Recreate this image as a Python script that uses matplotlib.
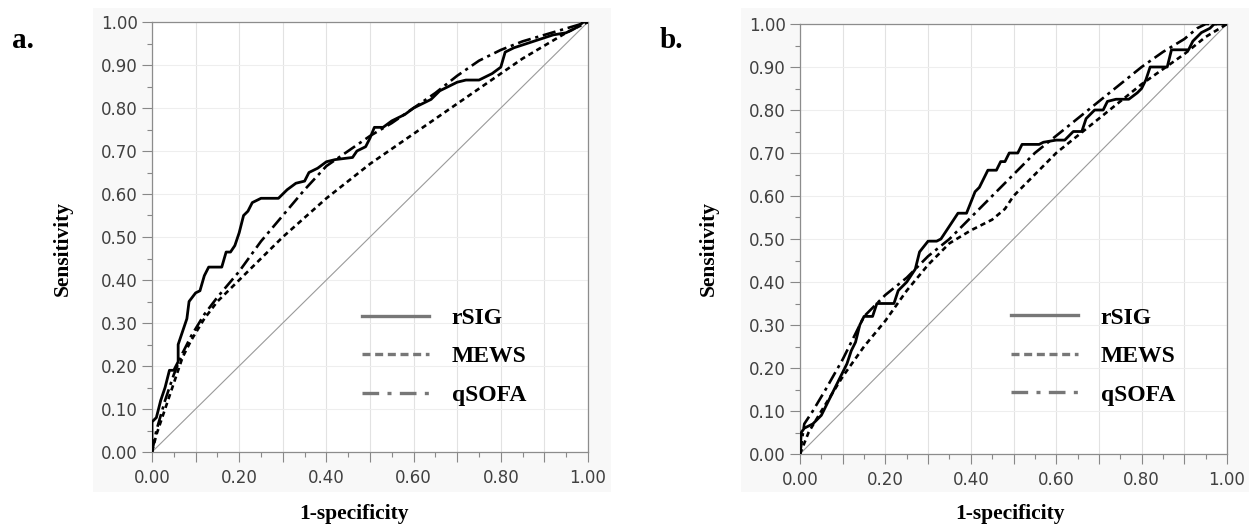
import matplotlib
matplotlib.use("Agg")
import matplotlib.pyplot as plt
from matplotlib.lines import Line2D
from matplotlib.patches import Rectangle
from matplotlib.ticker import MultipleLocator, FuncFormatter

# ---- panel a: ROC points (1-specificity, sensitivity) ----
a_rsig_x = [0, 0, 0.01, 0.02, 0.03, 0.04, 0.05, 0.06, 0.06, 0.07, 0.08, 0.085, 0.10, 0.11,
            0.12, 0.13, 0.16, 0.17, 0.18, 0.19, 0.20, 0.21, 0.22, 0.23, 0.25, 0.29, 0.31,
            0.33, 0.35, 0.36, 0.38, 0.40, 0.42, 0.46, 0.47, 0.49, 0.50, 0.51, 0.53, 0.55,
            0.58, 0.60, 0.62, 0.64, 0.66, 0.68, 0.70, 0.72, 0.75, 0.78, 0.80, 0.81, 0.83,
            0.86, 0.89, 0.92, 0.95, 0.97, 0.99, 1.0]
a_rsig_y = [0, 0.07, 0.08, 0.12, 0.15, 0.19, 0.19, 0.21, 0.25, 0.28, 0.31, 0.35, 0.37, 0.375,
            0.41, 0.43, 0.43, 0.465, 0.465, 0.48, 0.51, 0.55, 0.56, 0.58, 0.59, 0.59, 0.61,
            0.625, 0.63, 0.65, 0.66, 0.675, 0.68, 0.685, 0.70, 0.71, 0.73, 0.755, 0.755, 0.77,
            0.785, 0.80, 0.81, 0.82, 0.84, 0.85, 0.86, 0.865, 0.865, 0.88, 0.895, 0.93, 0.94,
            0.95, 0.96, 0.97, 0.975, 0.985, 1.0, 1.0]
a_mews_x = [0, 0.01, 0.03, 0.05, 0.07, 0.09, 0.12, 0.15, 0.20, 0.25, 0.30, 0.35, 0.40, 0.45,
            0.50, 0.55, 0.60, 0.65, 0.70, 0.75, 0.80, 0.85, 0.90, 0.95, 1.0]
a_mews_y = [0, 0.04, 0.10, 0.16, 0.22, 0.26, 0.31, 0.35, 0.40, 0.45, 0.50, 0.545, 0.59, 0.63,
            0.67, 0.705, 0.74, 0.775, 0.81, 0.845, 0.88, 0.915, 0.945, 0.975, 1.0]
a_qsofa_x = [0, 0.01, 0.03, 0.05, 0.07, 0.09, 0.12, 0.15, 0.20, 0.25, 0.30, 0.35, 0.40, 0.45,
             0.50, 0.55, 0.60, 0.65, 0.70, 0.75, 0.80, 0.85, 0.90, 0.95, 1.0]
a_qsofa_y = [0, 0.05, 0.12, 0.18, 0.23, 0.27, 0.32, 0.36, 0.42, 0.49, 0.55, 0.61, 0.665, 0.70,
             0.735, 0.765, 0.80, 0.835, 0.875, 0.91, 0.935, 0.955, 0.97, 0.985, 1.0]

# ---- panel b ----
b_rsig_x = [0, 0.003, 0.01, 0.02, 0.03, 0.04, 0.05, 0.06, 0.07, 0.08, 0.09, 0.10, 0.11, 0.12,
            0.13, 0.14, 0.15, 0.17, 0.18, 0.20, 0.22, 0.23, 0.25, 0.27, 0.28, 0.30, 0.32, 0.33,
            0.35, 0.37, 0.39, 0.40, 0.41, 0.42, 0.43, 0.44, 0.46, 0.47, 0.48, 0.49, 0.51, 0.52,
            0.56, 0.57, 0.60, 0.62, 0.64, 0.66, 0.67, 0.69, 0.71, 0.72, 0.74, 0.77, 0.79, 0.80,
            0.81, 0.82, 0.84, 0.86, 0.87, 0.89, 0.91, 0.92, 0.94, 0.96, 0.97, 1.0]
b_rsig_y = [0, 0.05, 0.06, 0.065, 0.07, 0.08, 0.09, 0.11, 0.13, 0.15, 0.17, 0.19, 0.21, 0.24,
            0.26, 0.30, 0.32, 0.32, 0.35, 0.35, 0.35, 0.38, 0.40, 0.43, 0.47, 0.495, 0.495, 0.50,
            0.53, 0.56, 0.56, 0.585, 0.61, 0.62, 0.64, 0.66, 0.66, 0.68, 0.68, 0.70, 0.70, 0.72,
            0.72, 0.725, 0.73, 0.73, 0.75, 0.75, 0.78, 0.80, 0.80, 0.82, 0.825, 0.825, 0.84, 0.85,
            0.87, 0.90, 0.90, 0.90, 0.94, 0.94, 0.94, 0.96, 0.98, 0.99, 1.0, 1.0]
b_mews_x = [0, 0.02, 0.05, 0.10, 0.15, 0.20, 0.25, 0.30, 0.35, 0.40, 0.45, 0.48, 0.50, 0.55,
            0.60, 0.65, 0.70, 0.75, 0.80, 0.85, 0.90, 0.95, 1.0]
b_mews_y = [0, 0.05, 0.10, 0.18, 0.25, 0.31, 0.38, 0.44, 0.49, 0.52, 0.545, 0.57, 0.60, 0.65,
            0.70, 0.74, 0.78, 0.82, 0.86, 0.895, 0.93, 0.97, 1.0]
b_qsofa_x = [0, 0.01, 0.03, 0.06, 0.10, 0.15, 0.20, 0.25, 0.30, 0.35, 0.40, 0.45, 0.50, 0.55,
             0.60, 0.65, 0.70, 0.75, 0.80, 0.85, 0.90, 0.93, 0.95, 1.0]
b_qsofa_y = [0, 0.07, 0.10, 0.15, 0.22, 0.32, 0.37, 0.41, 0.46, 0.50, 0.55, 0.60, 0.65, 0.70,
             0.74, 0.78, 0.82, 0.86, 0.90, 0.935, 0.965, 0.99, 1.0, 1.0]

labels = ["rSIG", "MEWS", "qSOFA"]
styles = ["-", (0, (2, 1.5)), (0, (5, 1.8, 1.2, 1.8))]
legend_styles = ["-", (0, (2.4, 1.4)), (0, (5, 2.5, 1.2, 2.5))]

serif = "Liberation Serif"

fig = plt.figure(figsize=(12.59, 5.29), dpi=100)

# light grey panels behind each chart
for x0, x1 in [(93, 611), (741, 1249)]:
    rect = Rectangle((x0 / 1259, 1 - 492 / 529), (x1 - x0) / 1259, (492 - 8) / 529,
                     transform=fig.transFigure, facecolor="#f8f8f8",
                     edgecolor="none", zorder=-10)
    fig.add_artist(rect)

ax_a = fig.add_axes([152 / 1259, 1 - 452 / 529, 436 / 1259, 430 / 529])
ax_b = fig.add_axes([800 / 1259, 1 - 454 / 529, 427 / 1259, 430 / 529])

panels = [
    (ax_a, [(a_rsig_x, a_rsig_y), (a_mews_x, a_mews_y), (a_qsofa_x, a_qsofa_y)], (0.482, 0.222)),
    (ax_b, [(b_rsig_x, b_rsig_y), (b_mews_x, b_mews_y), (b_qsofa_x, b_qsofa_y)], (0.494, 0.227)),
]

for ax, curves, leg_pos in panels:
    ax.set_zorder(1)
    ax.set_facecolor("white")
    ax.plot([0, 1], [0, 1], color="#9a9a9a", lw=0.8, zorder=2)
    for (xs, ys), ls, lw in zip(curves, styles, [2.0, 1.9, 1.9]):
        ax.plot(xs, ys, color="black", linestyle=ls, lw=lw, zorder=3)

    ax.set_xlim(0, 1)
    ax.set_ylim(0, 1)
    ax.xaxis.set_major_locator(MultipleLocator(0.1))
    ax.xaxis.set_minor_locator(MultipleLocator(0.05))
    ax.yaxis.set_major_locator(MultipleLocator(0.1))
    ax.yaxis.set_minor_locator(MultipleLocator(0.05))
    ax.xaxis.set_major_formatter(FuncFormatter(
        lambda v, p: f"{v:.2f}" if round(v * 10) % 2 == 0 else ""))
    ax.yaxis.set_major_formatter(FuncFormatter(lambda v, p: f"{v:.2f}"))
    ax.tick_params(which="major", length=7, width=0.8, color="#888888",
                   labelsize=12, labelcolor="#404040", pad=3)
    ax.tick_params(axis="x", which="major", pad=5)
    ax.tick_params(which="minor", length=3.5, width=0.8, color="#888888")
    ax.grid(axis="x", which="major", color="#e2e2e2", lw=0.8)
    ax.grid(axis="y", which="major", color="#eeeeee", lw=0.8)
    ax.set_axisbelow(True)
    for s in ax.spines.values():
        s.set_color("#8c8c8c")
        s.set_linewidth(0.9)

    handles = [Line2D([], [], color="#777777", lw=2.4, linestyle=ls) for ls in legend_styles]
    leg = ax.legend(handles, labels, loc="center left", bbox_to_anchor=leg_pos,
                    frameon=False, handlelength=2.85, handletextpad=0.95,
                    labelspacing=0.72, borderpad=0, borderaxespad=0,
                    prop={"family": serif, "weight": "bold", "size": 17})

# axis labels and panel letters
for cx, txt in [(63, "Sensitivity"), (709, "Sensitivity")]:
    fig.text(cx / 1259, 1 - 248 / 529, txt, rotation=90, ha="center", va="center",
             family=serif, weight="bold", size=15.5)
for cx in [354, 1010]:
    fig.text(cx / 1259, 1 - 514 / 529, "1-specificity", ha="center", va="center",
             family=serif, weight="bold", size=15.5)
fig.text(23 / 1259, 1 - 40 / 529, "a.", ha="center", va="center",
         family=serif, weight="bold", size=21)
fig.text(671 / 1259, 1 - 40 / 529, "b.", ha="center", va="center",
         family=serif, weight="bold", size=21)

fig.savefig("out.png", dpi=100, facecolor="white")
